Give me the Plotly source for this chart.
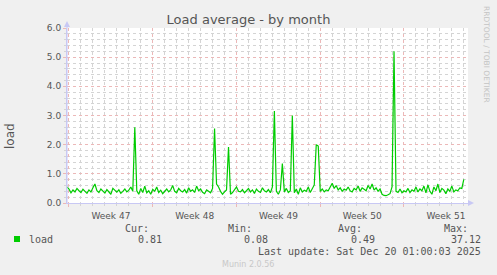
import plotly.graph_objects as go
import pandas as pd

# ---- data ----
start_time = "2025-11-16 20:00"
step_hours = 4
load_values = [
    0.55, 0.48, 0.35, 0.45, 0.38, 0.50, 0.42, 0.36, 0.47, 0.40,
    0.33, 0.45, 0.38, 0.52, 0.65, 0.42, 0.36, 0.48, 0.40, 0.34,
    0.46, 0.38, 0.30, 0.50, 0.42, 0.37, 0.45, 0.33, 0.40, 0.48,
    0.38, 0.44, 0.55, 0.40, 2.60, 0.42, 0.30, 0.50, 0.36, 0.58,
    0.35, 0.42, 0.30, 0.47, 0.40, 0.55, 0.36, 0.44, 0.32, 0.40,
    0.48, 0.38, 0.45, 0.60, 0.40, 0.35, 0.50, 0.42, 0.38, 0.46,
    0.34, 0.52, 0.40, 0.45, 0.36, 0.58, 0.42, 0.48, 0.37, 0.32,
    0.45, 0.40, 0.35, 0.50, 2.55, 0.65, 0.55, 0.40, 0.30, 0.38,
    0.45, 1.92, 0.30, 0.36, 0.48, 0.55, 0.40, 0.38, 0.46, 0.35,
    0.42, 0.50, 0.38, 0.45, 0.33, 0.48, 0.40, 0.36, 0.52, 0.42,
    0.38, 0.46, 0.35, 0.55, 3.15, 0.40, 0.30, 0.45, 1.35, 0.38,
    0.50, 0.36, 0.42, 3.00, 0.35, 0.48, 0.30, 0.52, 0.38, 0.44,
    0.40, 0.55, 0.36, 0.50, 0.62, 2.00, 1.95, 0.40, 0.48, 0.38,
    0.45, 0.42, 0.55, 0.68, 0.50, 0.60, 0.45, 0.52, 0.40, 0.48,
    0.44, 0.55, 0.42, 0.38, 0.50, 0.45, 0.58, 0.40, 0.52, 0.46,
    0.42, 0.60, 0.48, 0.65, 0.44, 0.52, 0.40, 0.48, 0.30, 0.26,
    0.25, 0.28, 0.32, 0.55, 5.20, 0.40, 0.36, 0.48, 0.35, 0.42,
    0.38, 0.50, 0.36, 0.45, 0.40, 0.55, 0.38, 0.48, 0.42, 0.58,
    0.35, 0.62, 0.40, 0.30, 0.55, 0.42, 0.65, 0.36, 0.50, 0.44,
    0.32, 0.48, 0.40, 0.58, 0.38, 0.45, 0.42, 0.52, 0.50, 0.81,
]
x_range = ["2025-11-16 20:00", "2025-12-20 08:24"]
week_starts = ["2025-11-17", "2025-11-24", "2025-12-01", "2025-12-08", "2025-12-15"]
week_mid = ["2025-11-20 12:00", "2025-11-27 12:00", "2025-12-04 12:00",
            "2025-12-11 12:00", "2025-12-18 12:00"]
week_labels = ["Week 47", "Week 48", "Week 49", "Week 50", "Week 51"]
y_ticks = [0, 1, 2, 3, 4, 5, 6]
y_tick_labels = ["0.0", "1.0", "2.0", "3.0", "4.0", "5.0", "6.0"]
legend_name = "load"
stat_names = ["Cur:", "Min:", "Avg:", "Max:"]
stat_values = ["0.81", "0.08", "0.49", "37.12"]
title_text = "Load average - by month"
y_label = "load"
last_update = "Last update: Sat Dec 20 01:00:03 2025"
munin_version = "Munin 2.0.56"
rrd_credit = "RRDTOOL / TOBI OETIKER"

times = pd.date_range(start=start_time, periods=len(load_values), freq=f"{step_hours}h")

# ---- layout geometry (pixels) ----
W, H = 497, 275
L, R, T, B = 67, 468, 28, 203


def px(x):
    return (x - L) / (R - L)


def py(y):
    return (B - y) / (B - T)


GREEN = "#00CC00"
TXT = "#555555"
AXIS = "#c8c8f4"
MAJ = "#ecb8b8"
MIN = "#d4d4d4"
MONO = "DejaVu Sans Mono"

fig = go.Figure()
fig.add_trace(go.Scatter(x=times, y=load_values, mode="lines",
                         line=dict(color=GREEN, width=1.2), xaxis="x", yaxis="y",
                         showlegend=False, hoverinfo="skip"))

fig.update_layout(
    width=W, height=H,
    margin=dict(l=L, r=W - R, t=T, b=H - B),
    paper_bgcolor="#F0F0F0", plot_bgcolor="#FFFFFF",
    showlegend=False,
    title=dict(text=title_text, x=0.5, xref="container", xanchor="center",
               y=1 - 19 / H, yref="container", yanchor="middle",
               font=dict(family="DejaVu Sans", size=13, color=TXT)),
    xaxis=dict(type="date", range=x_range, tickmode="array", tickvals=week_starts,
               showticklabels=False, showgrid=True, gridcolor=MAJ, griddash="dot",
               gridwidth=1, ticks="outside", ticklen=3, tickcolor=MAJ,
               showline=True, linecolor=AXIS, linewidth=1, zeroline=False,
               minor=dict(tickmode="linear", tick0="2025-11-17", dtick=86400000,
                          showgrid=True, gridcolor=MIN, griddash="dot",
                          ticks="outside", ticklen=2, tickcolor=MIN),
               fixedrange=True),
    xaxis2=dict(type="date", range=x_range, overlaying="x", side="bottom",
                anchor="y", tickmode="array", tickvals=week_mid,
                ticktext=week_labels, showgrid=False, showline=False,
                zeroline=False, ticks="", ticklabelstandoff=6,
                tickfont=dict(family="DejaVu Sans", size=9, color=TXT)),
    yaxis=dict(range=[0, 6], tickmode="array", tickvals=y_ticks,
               ticktext=y_tick_labels, showgrid=True, gridcolor=MAJ,
               griddash="dot", ticks="outside", ticklen=3, tickcolor=MAJ,
               showline=True, linecolor=AXIS, linewidth=1, zeroline=False,
               tickfont=dict(family="DejaVu Sans", size=9, color=TXT),
               minor=dict(tickmode="linear", tick0=0, dtick=0.2, showgrid=True,
                          gridcolor=MIN, griddash="dot", ticks="outside",
                          ticklen=2, tickcolor=MIN)),
)

# invisible trace so xaxis2 renders
fig.add_trace(go.Scatter(x=[times[0]], y=[None], xaxis="x2", yaxis="y",
                         showlegend=False, hoverinfo="skip"))

# axis arrows
fig.add_shape(type="path", xref="paper", yref="paper",
              path=f"M {px(64)} {py(27)} L {px(70)} {py(27)} L {px(67)} {py(21)} Z",
              fillcolor=AXIS, line=dict(width=0))
fig.add_shape(type="path", xref="paper", yref="paper",
              path=f"M {px(468)} {py(200)} L {px(468)} {py(206)} L {px(474)} {py(203)} Z",
              fillcolor=AXIS, line=dict(width=0))
fig.add_shape(type="line", xref="paper", yref="paper",
              x0=px(67), x1=px(67), y0=py(203), y1=py(24),
              line=dict(color=AXIS, width=1))

# legend swatch
fig.add_shape(type="rect", xref="paper", yref="paper",
              x0=px(14), x1=px(20), y0=py(242), y1=py(236),
              fillcolor=GREEN, line=dict(width=0))


def text(s, x, y, xanchor="left", size=10, color=TXT, family=MONO, angle=0):
    fig.add_annotation(text=s, x=px(x), y=py(y), xref="paper", yref="paper",
                       xanchor=xanchor, yanchor="middle", showarrow=False,
                       textangle=angle,
                       font=dict(family=family, size=size, color=color))


text(legend_name, 27, 239)
stat_label_right = [151, 254, 364, 470]
stat_value_right = [164, 270, 377, 483]
for name, val, xr1, xr2 in zip(stat_names, stat_values, stat_label_right, stat_value_right):
    text(name, xr1, 228, xanchor="right")
    text(val, xr2, 239, xanchor="right")
text(last_update, 483, 251, xanchor="right")
text(munin_version, 248, 264, xanchor="center", size=8, color="#c8c8c8",
     family="DejaVu Sans")
text(y_label, 10, 136, xanchor="center", size=12, family="DejaVu Sans", angle=-90)
text(rrd_credit, 487, 54, xanchor="center", size=7.5, color="#c4c4c4",
     family="DejaVu Sans", angle=90)

fig.write_html("out.html")
